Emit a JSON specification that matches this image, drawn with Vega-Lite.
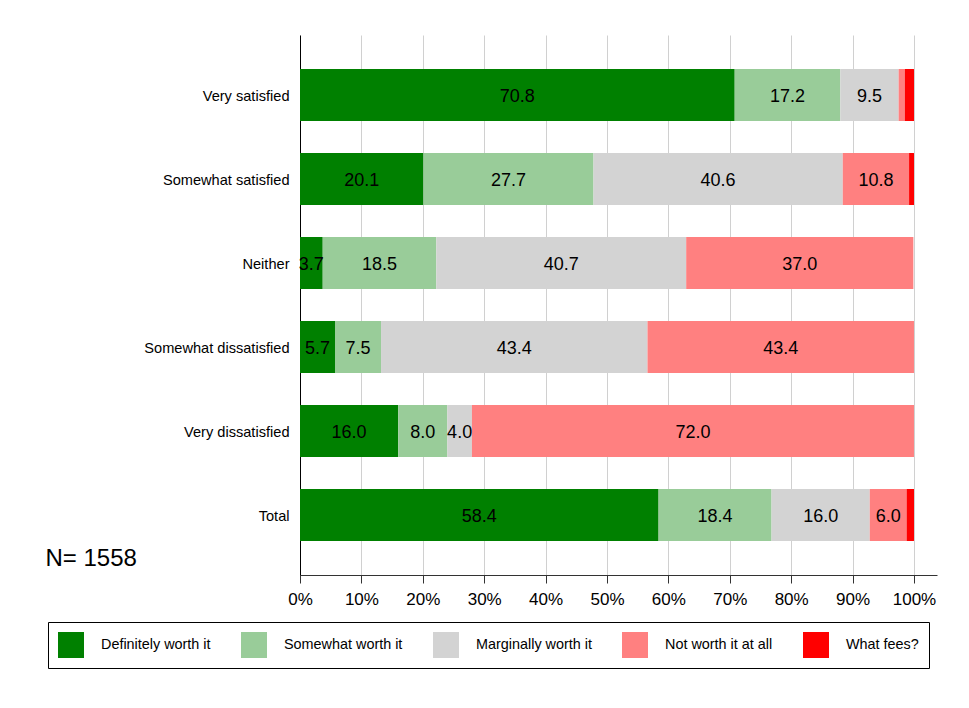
{
  "$schema": "https://vega.github.io/schema/vega-lite/v6.json",
  "width": 637,
  "height": 540,
  "autosize": {"type": "none"},
  "padding": {"left": 300, "top": 35, "right": 32, "bottom": 133},
  "background": "white",
  "config": {"font": "Liberation Sans", "view": {"stroke": null}},
  "data": {"values": [
    {"cat": "Very satisfied", "resp": "Definitely worth it", "k": 1, "pct": 70.8},
    {"cat": "Very satisfied", "resp": "Somewhat worth it", "k": 2, "pct": 17.2},
    {"cat": "Very satisfied", "resp": "Marginally worth it", "k": 3, "pct": 9.5},
    {"cat": "Very satisfied", "resp": "Not worth it at all", "k": 4, "pct": 1.0},
    {"cat": "Very satisfied", "resp": "What fees?", "k": 5, "pct": 1.5},
    {"cat": "Somewhat satisfied", "resp": "Definitely worth it", "k": 1, "pct": 20.1},
    {"cat": "Somewhat satisfied", "resp": "Somewhat worth it", "k": 2, "pct": 27.7},
    {"cat": "Somewhat satisfied", "resp": "Marginally worth it", "k": 3, "pct": 40.6},
    {"cat": "Somewhat satisfied", "resp": "Not worth it at all", "k": 4, "pct": 10.8},
    {"cat": "Somewhat satisfied", "resp": "What fees?", "k": 5, "pct": 0.8},
    {"cat": "Neither", "resp": "Definitely worth it", "k": 1, "pct": 3.7},
    {"cat": "Neither", "resp": "Somewhat worth it", "k": 2, "pct": 18.5},
    {"cat": "Neither", "resp": "Marginally worth it", "k": 3, "pct": 40.7},
    {"cat": "Neither", "resp": "Not worth it at all", "k": 4, "pct": 37.0},
    {"cat": "Somewhat dissatisfied", "resp": "Definitely worth it", "k": 1, "pct": 5.7},
    {"cat": "Somewhat dissatisfied", "resp": "Somewhat worth it", "k": 2, "pct": 7.5},
    {"cat": "Somewhat dissatisfied", "resp": "Marginally worth it", "k": 3, "pct": 43.4},
    {"cat": "Somewhat dissatisfied", "resp": "Not worth it at all", "k": 4, "pct": 43.4},
    {"cat": "Very dissatisfied", "resp": "Definitely worth it", "k": 1, "pct": 16.0},
    {"cat": "Very dissatisfied", "resp": "Somewhat worth it", "k": 2, "pct": 8.0},
    {"cat": "Very dissatisfied", "resp": "Marginally worth it", "k": 3, "pct": 4.0},
    {"cat": "Very dissatisfied", "resp": "Not worth it at all", "k": 4, "pct": 72.0},
    {"cat": "Total", "resp": "Definitely worth it", "k": 1, "pct": 58.4},
    {"cat": "Total", "resp": "Somewhat worth it", "k": 2, "pct": 18.4},
    {"cat": "Total", "resp": "Marginally worth it", "k": 3, "pct": 16.0},
    {"cat": "Total", "resp": "Not worth it at all", "k": 4, "pct": 6.0},
    {"cat": "Total", "resp": "What fees?", "k": 5, "pct": 1.2}
  ]},
  "layer": [
    {
      "mark": {"type": "bar"},
      "encoding": {
        "y": {
          "field": "cat", "type": "nominal",
          "sort": ["Very satisfied", "Somewhat satisfied", "Neither", "Somewhat dissatisfied", "Very dissatisfied", "Total"],
          "scale": {"paddingInner": 0.381, "paddingOuter": 0.405},
          "axis": {
            "title": "N= 1558", "titleAngle": 0, "titleAlign": "left", "titleBaseline": "alphabetic",
            "titleX": -255, "titleY": 530, "titleFontSize": 24, "titleFontWeight": "normal", "titleColor": "black",
            "ticks": false, "labelFontSize": 14.6, "labelPadding": 11, "labelOffset": 2, "labelColor": "black",
            "domainColor": "black", "labelLimit": 300
          }
        },
        "x": {
          "field": "pct", "type": "quantitative", "stack": "zero",
          "scale": {"domain": [0, 103.75], "nice": false},
          "axis": {
            "title": null, "values": [0, 10, 20, 30, 40, 50, 60, 70, 80, 90, 100],
            "labelExpr": "datum.value + '%'", "grid": true, "gridColor": "#d0d0d0",
            "domainColor": "#333333", "tickColor": "#333333", "tickSize": 8,
            "labelFontSize": 17, "labelColor": "black", "labelPadding": 8, "labelFlush": false
          }
        },
        "color": {
          "field": "resp", "type": "nominal",
          "scale": {
            "domain": ["Definitely worth it", "Somewhat worth it", "Marginally worth it", "Not worth it at all", "What fees?"],
            "range": ["#008000", "#99cc99", "#d3d3d3", "#ff8080", "#ff0000"]
          },
          "legend": {
            "orient": "none", "legendX": -252, "legendY": 587, "direction": "horizontal", "columns": 5,
            "title": null, "strokeColor": "black", "fillColor": "white", "padding": 10,
            "symbolType": "square", "symbolSize": 676, "symbolStrokeWidth": 0, "symbolOpacity": 1,
            "labelFontSize": 14.4, "labelOffset": 17, "columnPadding": 30, "labelColor": "black", "labelLimit": 300
          }
        },
        "order": {"field": "k", "type": "quantitative"}
      }
    },
    {
      "mark": {"type": "text", "fontSize": 18, "color": "black", "baseline": "middle", "align": "center", "dy": 2},
      "encoding": {
        "y": {
          "field": "cat", "type": "nominal",
          "sort": ["Very satisfied", "Somewhat satisfied", "Neither", "Somewhat dissatisfied", "Very dissatisfied", "Total"]
        },
        "x": {"field": "pct", "type": "quantitative", "stack": "zero", "bandPosition": 0.5},
        "text": {"condition": {"test": "datum.pct < 2", "value": ""}, "field": "pct", "type": "quantitative", "format": ".1f"},
        "order": {"field": "k", "type": "quantitative"}
      }
    }
  ]
}
